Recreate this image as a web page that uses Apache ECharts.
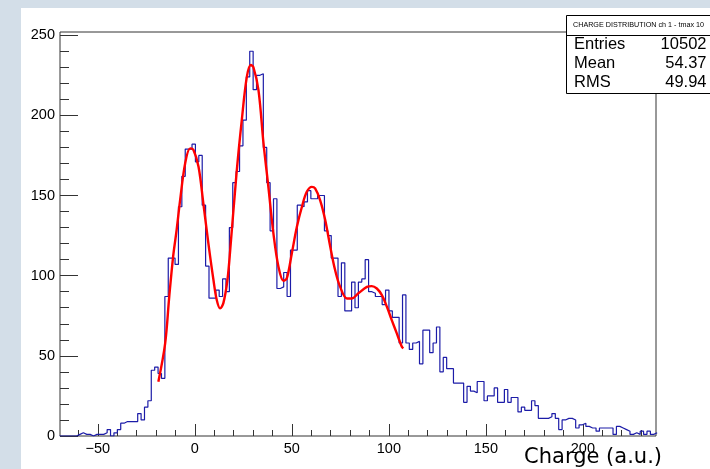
<!DOCTYPE html>
<html><head><meta charset="utf-8">
<script src="https://cdn.jsdelivr.net/npm/echarts@6/dist/echarts.min.js"></script>
<style>
html,body{margin:0;padding:0;background:#d3dee8;overflow:hidden;}
#paper{position:absolute;left:21px;top:8px;width:689px;height:461px;background:#fff;}
#c{position:absolute;left:0;top:0;width:710px;height:469px;}
</style>
</head><body><div id="paper"></div><div id="c"></div>
<script>
// Histogram binning (bin left edge of first bin, bin width) and counts
const binStart = -69.7;
const binWidth = 1.75;
const counts = [
  0,0,0,0,0,1,2,1,1,0,
  1,1,1,2,4,0,2,4,8,9,
  9,9,9,14,10,18,22,41,43,39,
  36,87,111,111,107,143,162,179,179,182,
  171,175,144,106,86,86,91,87,98,90,
  130,158,165,181,197,224,240,216,225,226,
  180,158,128,148,92,93,102,87,116,116,
  144,143,146,153,148,148,150,150,128,125,
  111,111,87,108,78,78,96,80,96,98,
  110,90,89,87,87,82,91,78,74,74,
  58,88,58,54,58,59,45,66,66,52,
  58,68,40,49,42,42,33,33,33,21,
  31,28,27,34,34,22,25,25,30,21,
  21,29,21,24,24,15,18,16,16,22,
  19,11,11,11,12,14,11,4,10,11,
  11,10,5,7,8,6,5,5,3,5,
  5,5,5,1,6,5,4,3,1,2,
  1,3,1,3,1,2
];
// Fit curve sample points
const fitX = [-18.8,-15.3,-13.2,-11.2,-9.4,-7.6,-5.0,-2.4,-0.7,1.9,4.4,7.0,9.6,11.3,13.0,14.7,16.8,18.3,21.5,24.2,26.8,28.9,30.2,32.8,35.4,37.9,40.5,43.1,45.7,47.4,50.0,52.6,55.2,57.7,60.3,62.0,64.6,67.2,69.8,72.3,74.9,78.4,80.9,84.3,88.7,91.2,93.8,96.4,99.0,101.5,104.1,106.7,107.5];
const fitY = [33.9,57.8,86.8,111.8,128.4,147,170,179.4,178.4,168,145,120,97.3,84.8,79.6,82.9,97.3,117,164,197,224,231.4,230,215.7,182.5,155.4,126.4,105.6,96.8,98.3,114,130.5,143,152.3,155.4,154.4,147,134.7,118,103.5,93,85.8,85.8,89,93,93.5,92,87.9,80.6,72.3,64,55.7,54.7];
// Axis ticks
const xMajorTicks = [-50,0,50,100,150,200];
const xMinorTicks = [-60,-50,-40,-30,-20,-10,0,10,20,30,40,50,60,70,80,90,100,110,120,130,140,150,160,170,180,190,200,210,220,230];
const yMajorTicks = [0,50,100,150,200,250];
const yMinorTicks = [10,20,30,40,50,60,70,80,90,100,110,120,130,140,150,160,170,180,190,200,210,220,230,240,250];
// Stats box
const statTitle = 'CHARGE DISTRIBUTION ch 1 - tmax 10';
const statNames = ['Entries','Mean','RMS'];
const statValues = ['10502','54.37','49.94'];
const axisTitle = 'Charge (a.u.)';

const histData = counts.map((c, i) => [binStart + i * binWidth, c]);
histData.push([binStart + counts.length * binWidth, counts[counts.length - 1]]);
const fitData = fitX.map((x, i) => [x, fitY[i]]);

const X_MIN = -69.5, X_MAX = 237.7, Y_MIN = 0, Y_MAX = 252;
const FONT = '"Liberation Sans", Arial, sans-serif';
const AX = '#333';

const chart = echarts.init(document.getElementById('c'), null, {renderer: 'canvas'});
const statRowsY = [44.5, 63.5, 82.5];
const graphics = [
  {type:'rect', z:100, shape:{x:566.5, y:15.5, width:170, height:78}, style:{fill:'#fff', stroke:'#000', lineWidth:1}},
  {type:'line', z:101, shape:{x1:566.5, y1:35.5, x2:720, y2:35.5}, style:{stroke:'#000', lineWidth:1}},
  {type:'text', z:102, style:{x:573, y:25.5, text:statTitle, fill:'#000', font:'7.2px ' + FONT, textAlign:'left', textVerticalAlign:'middle'}},
  {type:'text', z:102, style:{x:662, y:458, text:axisTitle, fill:'#000', font:'21px "DejaVu Sans", sans-serif', textAlign:'right', textVerticalAlign:'middle'}}
];
statNames.forEach((n, i) => {
  graphics.push({type:'text', z:102, style:{x:574, y:statRowsY[i], text:n, fill:'#000', font:'16.5px ' + FONT, textAlign:'left', textVerticalAlign:'middle'}});
  graphics.push({type:'text', z:102, style:{x:706.5, y:statRowsY[i], text:statValues[i], fill:'#000', font:'16.5px ' + FONT, textAlign:'right', textVerticalAlign:'middle'}});
});

chart.setOption({
  backgroundColor: 'transparent',
  animation: false,
  grid: {left:60, right:54, top:32, bottom:33, show:true, borderColor:AX, borderWidth:1, backgroundColor:'#fff'},
  xAxis: [
    {type:'value', position:'bottom', min:X_MIN, max:X_MAX,
     axisLine:{show:false, onZero:false}, splitLine:{show:false},
     axisTick:{show:true, inside:true, length:12, customValues:xMajorTicks, lineStyle:{color:AX, width:1}},
     axisLabel:{show:true, customValues:xMajorTicks, margin:5, color:'#000', fontFamily:'Liberation Sans', fontSize:14.5,
       formatter: v => (v < 0 ? '\u2212' + Math.abs(v) : String(v))}},
    {type:'value', position:'bottom', min:X_MIN, max:X_MAX,
     axisLine:{show:false, onZero:false}, splitLine:{show:false},
     axisTick:{show:true, inside:true, length:6, customValues:xMinorTicks, lineStyle:{color:AX, width:1}},
     axisLabel:{show:false}}
  ],
  yAxis: [
    {type:'value', position:'left', min:Y_MIN, max:Y_MAX,
     axisLine:{show:false, onZero:false}, splitLine:{show:false},
     axisTick:{show:true, inside:true, length:18, customValues:yMajorTicks, lineStyle:{color:AX, width:1}},
     axisLabel:{show:true, customValues:yMajorTicks, margin:5, color:'#000', fontFamily:'Liberation Sans', fontSize:14.5}},
    {type:'value', position:'left', min:Y_MIN, max:Y_MAX,
     axisLine:{show:false, onZero:false}, splitLine:{show:false},
     axisTick:{show:true, inside:true, length:9, customValues:yMinorTicks, lineStyle:{color:AX, width:1}},
     axisLabel:{show:false}}
  ],
  series: [
    {type:'line', name:'hist', xAxisIndex:0, yAxisIndex:0, data:histData, step:'end', showSymbol:false, symbol:'none',
     lineStyle:{color:'#1c1ca8', width:1.2}, z:3, clip:true},
    {type:'line', name:'fit', xAxisIndex:0, yAxisIndex:0, data:fitData, smooth:0.35, showSymbol:false, symbol:'none',
     lineStyle:{color:'#ff0000', width:2.4}, z:4, clip:true}
  ],
  graphic: graphics
});
</script>
</body></html>
